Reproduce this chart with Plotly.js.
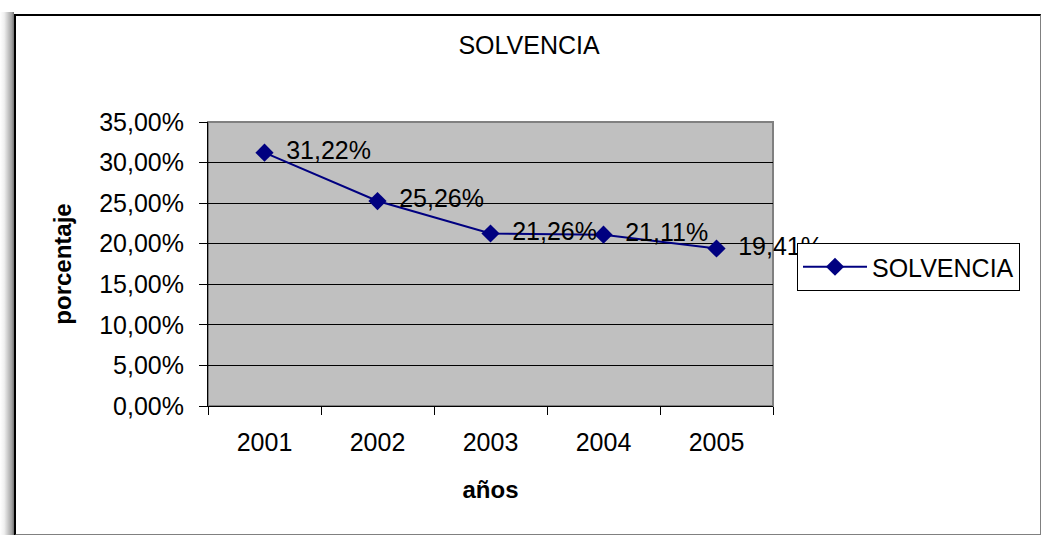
<!DOCTYPE html>
<html>
<head>
<meta charset="utf-8">
<script src="https://cdn.plot.ly/plotly-3.0.1.min.js"></script>
<style>
html,body{margin:0;padding:0;background:#fff;}
#wrap{position:relative;width:1041px;height:535px;overflow:hidden;}
#shadow{position:absolute;left:0;top:12px;width:14px;height:523px;background:linear-gradient(to right,#ffffff,#f0f0f0 30%,#a0a0a0 85%,#707070);}
#frame{position:absolute;left:14px;top:14px;width:1024px;height:518px;border-left:2px solid #000;border-top:2px solid #000;border-right:1px solid #808080;border-bottom:2px solid #808080;}
#chart{position:absolute;left:0;top:0;width:1041px;height:535px;}
</style>
</head>
<body>
<div id="wrap">
<div id="shadow"></div>
<div id="frame"></div>
<div id="chart"></div>
</div>
<script>
const years = ['2001','2002','2003','2004','2005'];
const solvencia = [0.3122, 0.2526, 0.2126, 0.2111, 0.1941];
const seriesName = 'SOLVENCIA';
const titleText = 'SOLVENCIA';
const xTitle = 'años';
const yTitle = 'porcentaje';

const FONT = 'Liberation Sans, Arial, sans-serif';

const trace = {
  x: years,
  y: solvencia,
  name: seriesName,
  type: 'scatter',
  mode: 'lines+markers+text',
  line: {color: '#000080', width: 2},
  marker: {symbol: 'diamond', size: 14, color: '#000080'},
  texttemplate: '\u00a0\u2009%{y:.2%}',
  textposition: 'middle right',
  textfont: {family: FONT, size: 25, color: '#000'},
  cliponaxis: false,
  hoverinfo: 'skip'
};

const layout = {
  width: 1041,
  height: 535,
  separators: ',.',
  paper_bgcolor: 'rgba(0,0,0,0)',
  plot_bgcolor: '#c0c0c0',
  font: {family: FONT, color: '#000'},
  margin: {l: 208, r: 268, t: 122, b: 129, pad: 0},
  title: {text: titleText, font: {family: FONT, size: 25, color: '#000'}, x: 529 / 1041, xanchor: 'center', y: 0.915, yanchor: 'middle', xref: 'container', yref: 'container'},
  showlegend: true,
  legend: {
    xref: 'container', yref: 'container',
    x: 797 / 1041, xanchor: 'left', y: 1 - 243 / 535, yanchor: 'top',
    bgcolor: '#fff', bordercolor: '#000', borderwidth: 1,
    font: {family: FONT, size: 25, color: '#000'},
    itemwidth: 64
  },
  xaxis: {
    type: 'category',
    range: [-0.5, 4.5],
    tickson: 'boundaries',
    ticks: 'outside', ticklen: 8, tickcolor: '#000', tickwidth: 1,
    ticklabelstandoff: 14,
    showline: true, linecolor: '#000', linewidth: 1,
    showgrid: false, zeroline: false,
    tickfont: {family: FONT, size: 25, color: '#000'},
    title: {text: xTitle, font: {family: FONT, size: 24, color: '#000', weight: 'bold'}, standoff: 26},
    automargin: false
  },
  yaxis: {
    range: [0, 0.35],
    dtick: 0.05,
    tickformat: '.2%',
    ticks: 'outside', ticklen: 8, tickcolor: '#000', tickwidth: 1,
    ticklabelstandoff: 10,
    showline: true, linecolor: '#000', linewidth: 1,
    showgrid: true, gridcolor: '#000', gridwidth: 1,
    zeroline: false,
    tickfont: {family: FONT, size: 25, color: '#000'},
    title: {text: yTitle, font: {family: FONT, size: 24, color: '#000', weight: 'bold'}, standoff: 20},
    automargin: false
  },
  shapes: [{
    type: 'rect', xref: 'paper', yref: 'paper', x0: 0, x1: 1, y0: 0, y1: 1,
    line: {color: '#808080', width: 2}, layer: 'below'
  }]
};

Plotly.newPlot('chart', [trace], layout, {displayModeBar: false, staticPlot: true});
</script>
</body>
</html>
